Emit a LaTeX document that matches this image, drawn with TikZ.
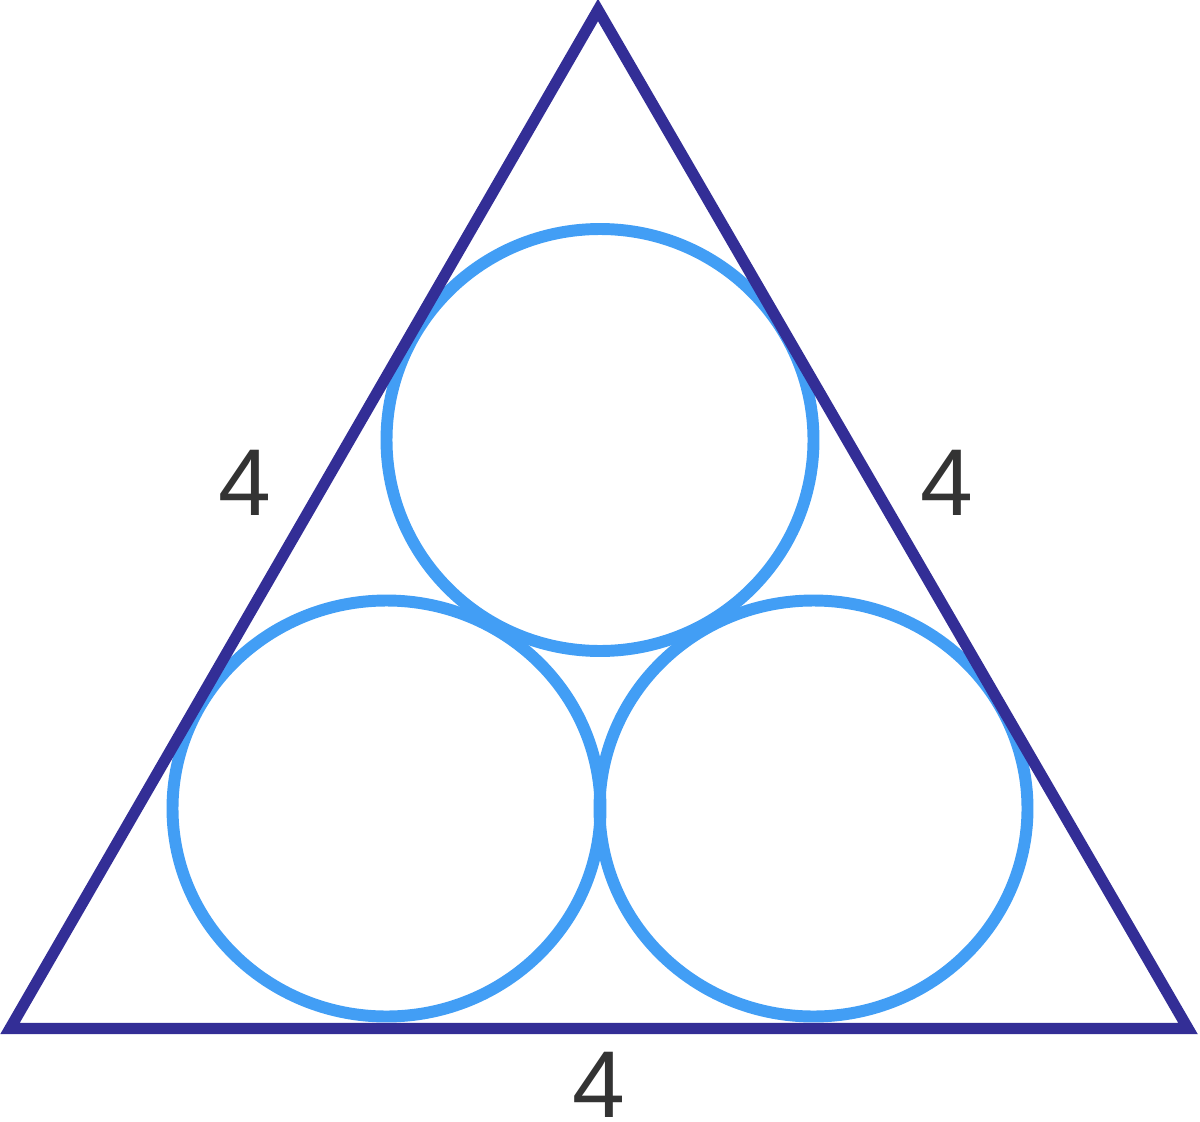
\documentclass[tikz,border=0pt]{standalone}
\usepackage{fontspec}
\setmainfont{Liberation Sans}
\usepackage{tikz}
\definecolor{tridark}{HTML}{332E96}
\definecolor{ringblue}{HTML}{429EF5}
\definecolor{labelgray}{HTML}{333333}
\tikzset{
  ring/.style={draw=ringblue, line width=6.8pt},
  side/.style={draw=tridark, line width=6.4pt, line join=miter},
  sidelabel/.style={text=labelgray, inner sep=0pt, font=\fontsize{54}{60}\selectfont}
}

\begin{document}
\begin{tikzpicture}[x=0.02cm, y=-0.02cm]
  \useasboundingbox (0,0) rectangle (1200,1122);
  \begin{scope}
    % circles
    \draw[ring] (600,440) ellipse [x radius=213.5, y radius=211];
    \draw[ring] (386.5,808.5) ellipse [x radius=214, y radius=208];
    \draw[ring] (813.5,808.5) ellipse [x radius=214, y radius=208];
    % triangle
    \coordinate (apex) at (598,10);
    \coordinate (left) at (10,1028.5);
    \coordinate (right) at (1188,1028.5);
    \draw[side] (apex) -- (left) -- (right) -- cycle;
    \node[sidelabel] (lblleft) at (245,482.5) {4};
    \node[sidelabel] (lblright) at (947,482.5) {4};
    \node[sidelabel] (lblbase) at (598.5,1085) {4};
  \end{scope}
\end{tikzpicture}
\end{document}
